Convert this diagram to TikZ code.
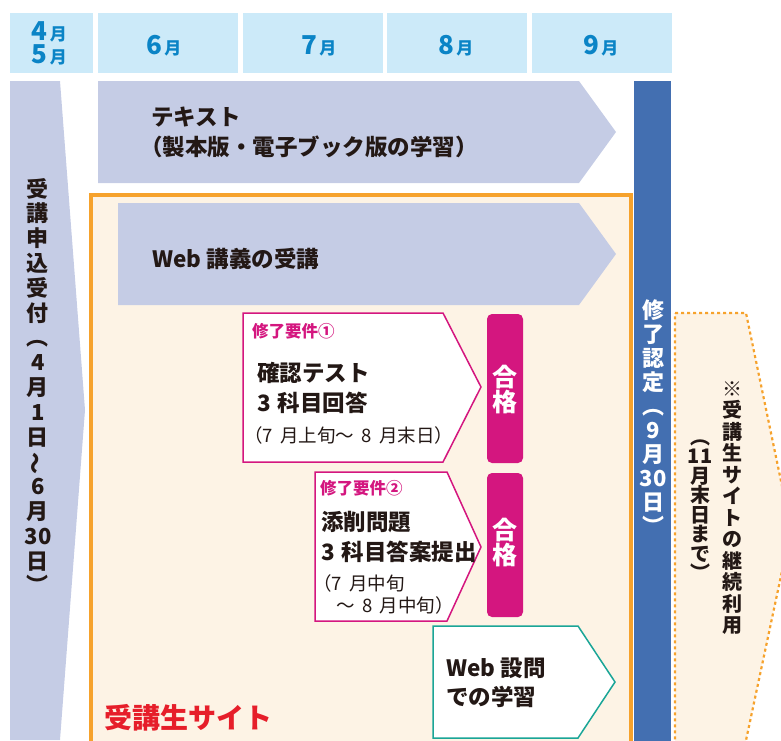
\documentclass[tikz,border=0pt]{standalone}
\usepackage{fontspec}
\usepackage{graphicx}
\setmainfont{Noto Sans CJK JP}
\definecolor{hdr}{HTML}{CCEAF9}
\definecolor{hdrtxt}{HTML}{0A84C6}
\definecolor{lav}{HTML}{C5CCE5}
\definecolor{navy}{HTML}{436FB1}
\definecolor{org}{HTML}{F6A22C}
\definecolor{cream}{HTML}{FDF3E5}
\definecolor{mag}{HTML}{D4167F}
\definecolor{tealc}{HTML}{1AA597}
\definecolor{redt}{HTML}{E61E2A}
\definecolor{ink}{HTML}{231815}
\newcommand\vwave{\rotatebox[origin=c]{90}{～}}
\newcommand\mon[1]{{\fontsize{26}{26}\selectfont #1}\,{\fontsize{17}{17}\selectfont 月}}
\newcommand\gapsp{\hspace{0.3em}}
\newcommand\gapnt{\hspace{0.4em}}
\tikzset{
  hdrcell/.style={fill=hdr,draw=none},
  hdrlab/.style={inner sep=0pt,text=hdrtxt,font=\bfseries},
  lavshape/.style={fill=lav,draw=none},
  lbl/.style={inner sep=0pt,anchor=west,text=ink,font=\bfseries\fontsize{22.5}{26}\selectfont},
  note/.style={inner sep=0pt,anchor=west,text=ink,font=\fontsize{18.5}{20}\selectfont},
  req/.style={inner sep=0pt,anchor=west,text=mag,font=\bfseries\fontsize{16.5}{19}\selectfont},
  reqbox/.style={draw=mag,line width=1.5pt,fill=white,line join=miter},
  passbox/.style={fill=mag,draw=none,rounded corners=5pt},
  passlab/.style={inner sep=0pt,align=center,text=white,font=\bfseries\fontsize{25}{25}\selectfont},
  vlab/.style={inner sep=0pt,align=center,font=\bfseries}
}
\begin{document}
\begin{tikzpicture}[x=1pt,y=-1pt]
\useasboundingbox (0,0) rectangle (781,740);
\clip (0,0) rectangle (781,740);

% header
\fill[hdrcell] (10,13) rectangle (93,73);
\fill[hdrcell] (98,13) rectangle (238,73);
\fill[hdrcell] (243,13) rectangle (383,73);
\fill[hdrcell] (387,13) rectangle (527,73);
\fill[hdrcell] (532,13) rectangle (672,73);
\node[hdrlab,align=center,font=\bfseries\fontsize{17}{23}\selectfont] (h45) at (49,43) {\mon{4}\\\mon{5}};
\node[hdrlab] (h6) at (164,46) {\mon{6}};
\node[hdrlab] (h7) at (319,46) {\mon{7}};
\node[hdrlab] (h8) at (456,46) {\mon{8}};
\node[hdrlab] (h9) at (601,46) {\mon{9}};

% left arrow
\fill[lavshape] (10,81) -- (60,81) -- (85,410) -- (60,740) -- (10,740) -- cycle;
\node[vlab,text=ink,font=\bfseries\fontsize{22}{24.8}\selectfont] (apply) at (38,386)
  {受\\講\\申\\込\\受\\付\\︵\\4\\月\\1\\日\\\vwave\\6\\月\\30\\日\\︶};

% text arrow
\fill[lavshape] (98,81) -- (579,81) -- (616,132) -- (579,183) -- (98,183) -- cycle;
\node[lbl] (txt1) at (151,117) {テキスト};
\node[lbl] (txt2) at (140,147) {（製本版・電子ブック版の学習）};

% blue bar
\fill[navy] (634,81) rectangle (671,745);
\node[vlab,text=white,font=\bfseries\fontsize{22}{24}\selectfont] (cert) at (653,417)
  {修\\了\\認\\定\\︵\\9\\月\\30\\日\\︶};

% orange frame
\draw[org,line width=3.5pt,fill=cream] (91,195) rectangle (631,760);

% dotted arrow
\draw[org,line width=2.2pt,dash pattern=on 3pt off 3pt,fill=cream]
  (675,313) -- (746,313) -- (791,529) -- (745,745) -- (675,745) -- cycle;
\node[vlab,text=ink,font=\bfseries\fontsize{20}{21.5}\selectfont] (cont) at (732,508)
  {※\\受\\講\\生\\サ\\イ\\ト\\の\\継\\続\\利\\用};
\node[vlab,text=ink,font=\bfseries\fontsize{20}{19.5}\selectfont] (until) at (700,510)
  {︵\\11\\月\\末\\日\\ま\\で\\︶};

% web lecture arrow
\fill[lavshape] (118,203) -- (579,203) -- (616,254) -- (579,305) -- (118,305) -- cycle;
\node[lbl] (web) at (152,259) {Web 講義の受講};

% requirement 1
\draw[reqbox] (243,313) -- (443,313) -- (481,387) -- (443,462) -- (243,462) -- cycle;
\node[req] (r1t) at (252,331) {修了要件①};
\node[lbl] (r1a) at (257,373) {確認テスト};
\node[lbl] (r1b) at (257,403) {3\gapsp 科目回答};
\node[note] (r1c) at (244,435) {（7\gapnt 月上旬～\gapnt 8\gapnt 月末日）};
\fill[passbox] (487,314) rectangle (523,463);
\node[passlab] (p1) at (505,390) {合\\格};

% requirement 2
\draw[reqbox] (315,472) -- (447,472) -- (481,547) -- (447,621) -- (315,621) -- cycle;
\node[req] (r2t) at (320,488) {修了要件②};
\node[lbl] (r2a) at (321,522) {添削問題};
\node[lbl] (r2b) at (321,552) {3\gapsp 科目答案提出};
\node[note] (r2c) at (313,583) {（7\gapnt 月中旬};
\node[note] (r2d) at (336,605) {～\gapnt 8\gapnt 月中旬）};
\fill[passbox] (487,473) rectangle (523,617);
\node[passlab] (p2) at (505,542) {合\\格};

% web questions
\draw[tealc,line width=1.5pt,fill=white] (433,626) -- (578,626) -- (615,682) -- (578,738) -- (433,738) -- cycle;
\node[lbl] (wq1) at (446,668) {Web 設問};
\node[lbl] (wq2) at (446,697) {での学習};

% site label
\node[inner sep=0pt,anchor=west,text=redt,font=\bfseries\fontsize{28}{30}\selectfont] (site) at (104,718) {受講生サイト};
\end{tikzpicture}
\end{document}
